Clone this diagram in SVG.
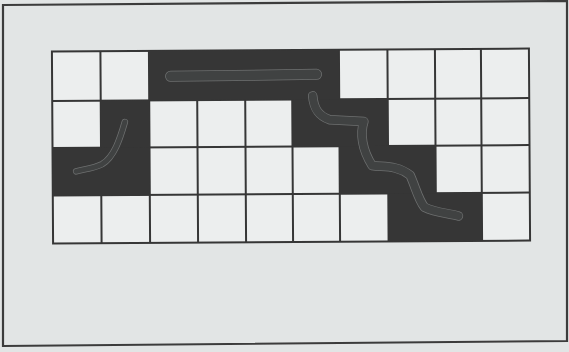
<svg xmlns="http://www.w3.org/2000/svg" width="569" height="352" viewBox="0 0 569 352">
<style>
.bg{fill:#e2e5e5}
.frame{fill:none;stroke:#3c3c3c;stroke-width:2.2;stroke-linejoin:miter}
.cell{fill:#eceeee}
.dark{fill:#363636}
.gl{stroke:#363636;stroke-width:2;fill:none}
.smudge-edge{fill:none;stroke:#6e7070;stroke-linecap:round;stroke-linejoin:round}
.smudge{fill:none;stroke:#404242;stroke-linecap:round;stroke-linejoin:round}
</style>
<rect class="bg" x="0" y="0" width="569" height="352"/>
<polygon class="frame" points="3,5 567,1 567,341 3,346"/>
<g id="grid" transform="rotate(-0.35 291 146)">
<rect class="cell" x="52.5" y="50" width="477" height="192"/>
<g id="lines">
<rect class="gl" x="52.5" y="50" width="477" height="192"/>
<path class="gl" d="M101,50V242M149.5,50V242M197.5,99.5V242M245.5,99.5V242M292.5,99.5V242M339.5,50V242M388,50V242M435.5,50V242M481.5,50V242"/>
<path class="gl" d="M52.5,99.5H529.5M52.5,146.5H529.5M52.5,194H529.5"/>
</g>
<g id="dark-cells">
<rect class="dark" x="149.5" y="50" width="190" height="49.5"/>
<rect class="dark" x="101" y="99.5" width="48.5" height="47"/>
<rect class="dark" x="292.5" y="99.5" width="95.5" height="47"/>
<rect class="dark" x="52.5" y="146.5" width="97" height="47.5"/>
<rect class="dark" x="339.5" y="146.5" width="96" height="47.5"/>
<rect class="dark" x="388" y="194" width="93.5" height="48"/>
</g>
<g id="marks">
<path class="smudge-edge" stroke-width="11" d="M171,75.5 L317,74.5"/>
<path class="smudge" stroke-width="9.5" d="M171,75.5 L317,74.5"/>
<path class="smudge-edge" stroke-width="6.5" d="M125,121 C120,138 114,156 102,163 C94,167 84,168 76,170"/>
<path class="smudge" stroke-width="5" d="M125,121 C120,138 114,156 102,163 C94,167 84,168 76,170"/>
<path class="smudge-edge" stroke-width="9.5" d="M313,96 C314,108 318,116 330,120 L364,122 C360,134 362,150 372,166 C382,168 396,165 410,176 C416,190 418,200 424,208 C436,214 448,214 458,217"/>
<path class="smudge" stroke-width="8" d="M313,96 C314,108 318,116 330,120 L364,122 C360,134 362,150 372,166 C382,168 396,165 410,176 C416,190 418,200 424,208 C436,214 448,214 458,217"/>
</g>
</g>
</svg>
